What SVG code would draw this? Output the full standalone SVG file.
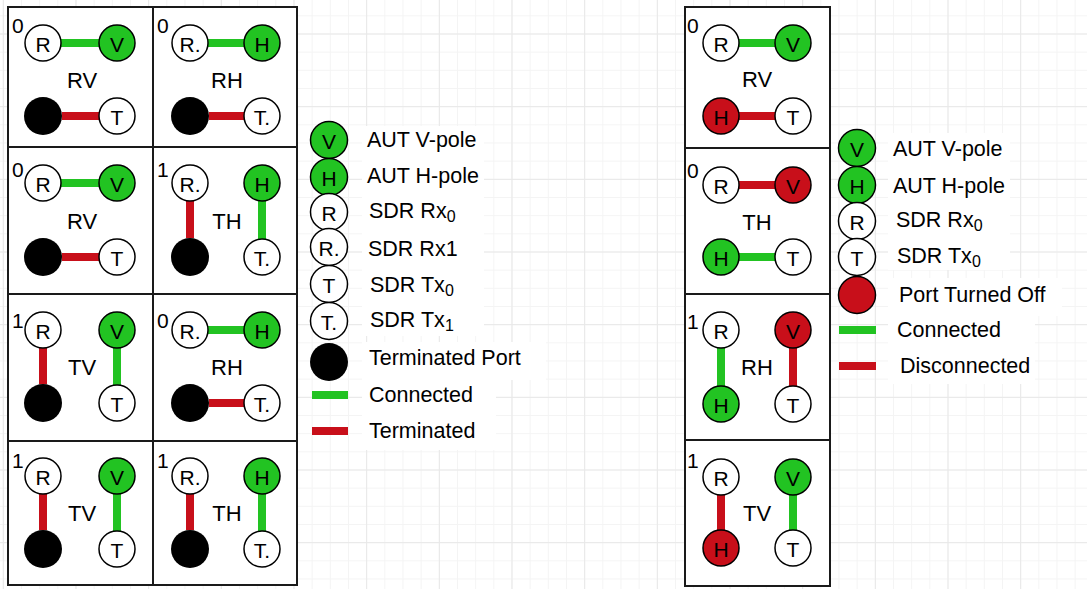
<svg xmlns="http://www.w3.org/2000/svg" width="1087" height="589" viewBox="0 0 1087 589">
<defs>
<pattern id="minor" width="18.1667" height="18.1667" patternUnits="userSpaceOnUse" x="2.83" y="15.33"><path d="M0.5 0V18.1667M0 0.5H18.1667" stroke="#f4f4f4" stroke-width="1" fill="none"/></pattern>
<pattern id="major" width="72.667" height="72.667" patternUnits="userSpaceOnUse" x="2.83" y="33.5"><path d="M0.5 0V72.667M0 0.5H72.667" stroke="#e8e8e8" stroke-width="1" fill="none"/></pattern>
</defs>
<style>
.cell{fill:#fff;stroke:#1a1a1a;stroke-width:2}
.p{stroke:#000;stroke-width:1.5}
.w{fill:#fff}
.g{fill:#22c322}
.r{fill:#c80f1a}
.k{fill:#000}
.cg{stroke:#22c322;stroke-width:8}
.cr{stroke:#c80f1a;stroke-width:8}
.t{font-family:"Liberation Sans",Arial,Helvetica,sans-serif;fill:#000}
.ltr{font-size:21px;text-anchor:middle;dominant-baseline:central}
.lab{font-size:22px;text-anchor:middle}
.num{font-size:21px}
.leg{font-size:21.5px}
.sub{font-size:16px}
.bg{fill:#fff}
</style>
<rect width="1087" height="589" fill="#fff"/>
<rect width="1087" height="589" fill="url(#minor)"/>
<rect width="1087" height="589" fill="url(#major)"/>

<g id="cells">
<rect class="cell" x="8" y="7" width="145" height="140"/>
<rect class="cell" x="153" y="7" width="144" height="140"/>
<rect class="cell" x="8" y="147" width="145" height="147"/>
<rect class="cell" x="153" y="147" width="144" height="147"/>
<rect class="cell" x="8" y="294" width="145" height="147"/>
<rect class="cell" x="153" y="294" width="144" height="147"/>
<rect class="cell" x="8" y="441" width="145" height="144"/>
<rect class="cell" x="153" y="441" width="144" height="144"/>
<rect class="cell" x="685" y="7" width="145" height="141"/>
<rect class="cell" x="685" y="148" width="145" height="146"/>
<rect class="cell" x="685" y="294" width="145" height="146"/>
<rect class="cell" x="685" y="440" width="145" height="146"/>
</g>

<g id="connectors">
<line class="cg" x1="61" y1="43" x2="99" y2="43"/>
<line class="cr" x1="62" y1="116" x2="99" y2="116"/>
<line class="cg" x1="208" y1="43" x2="244" y2="43"/>
<line class="cr" x1="209" y1="116" x2="244" y2="116"/>
<line class="cg" x1="61" y1="183" x2="99" y2="183"/>
<line class="cr" x1="62" y1="257" x2="99" y2="257"/>
<line class="cr" x1="190" y1="201" x2="190" y2="238"/>
<line class="cg" x1="262" y1="201" x2="262" y2="239"/>
<line class="cr" x1="43" y1="348" x2="43" y2="384"/>
<line class="cg" x1="117" y1="348" x2="117" y2="385"/>
<line class="cg" x1="208" y1="330" x2="244" y2="330"/>
<line class="cr" x1="209" y1="403" x2="244" y2="403"/>
<line class="cr" x1="43" y1="494" x2="43" y2="530"/>
<line class="cg" x1="117" y1="494" x2="117" y2="531"/>
<line class="cr" x1="190" y1="494" x2="190" y2="530"/>
<line class="cg" x1="262" y1="494" x2="262" y2="531"/>
<line class="cg" x1="739" y1="43" x2="775" y2="43"/>
<line class="cr" x1="739" y1="116" x2="775" y2="116"/>
<line class="cr" x1="739" y1="185" x2="775" y2="185"/>
<line class="cg" x1="739" y1="257" x2="775" y2="257"/>
<line class="cg" x1="721" y1="348" x2="721" y2="386"/>
<line class="cr" x1="793" y1="348" x2="793" y2="386"/>
<line class="cr" x1="721" y1="495" x2="721" y2="530"/>
<line class="cg" x1="793" y1="495" x2="793" y2="530"/>
</g>

<g id="L-r1c1">
<text class="t num" x="12" y="33">0</text>
<circle class="p w" cx="43" cy="43" r="18"/><text class="t ltr" x="43" y="44">R</text>
<circle class="p g" cx="117" cy="43" r="18"/><text class="t ltr" x="117" y="44">V</text>
<text class="t lab" x="82" y="88">RV</text>
<circle class="k" cx="43" cy="116" r="19"/>
<circle class="p w" cx="117" cy="116" r="18"/><text class="t ltr" x="117" y="117">T</text>
</g>
<g id="L-r1c2">
<text class="t num" x="157" y="33">0</text>
<circle class="p w" cx="190" cy="43" r="18"/><text class="t ltr" x="190" y="44">R.</text>
<circle class="p g" cx="262" cy="43" r="18"/><text class="t ltr" x="262" y="44">H</text>
<text class="t lab" x="227" y="88">RH</text>
<circle class="k" cx="190" cy="116" r="19"/>
<circle class="p w" cx="262" cy="116" r="18"/><text class="t ltr" x="262" y="117">T.</text>
</g>
<g id="L-r2c1">
<text class="t num" x="12" y="177">0</text>
<circle class="p w" cx="43" cy="183" r="18"/><text class="t ltr" x="43" y="184">R</text>
<circle class="p g" cx="117" cy="183" r="18"/><text class="t ltr" x="117" y="184">V</text>
<text class="t lab" x="82" y="229">RV</text>
<circle class="k" cx="43" cy="257" r="19"/>
<circle class="p w" cx="117" cy="257" r="18"/><text class="t ltr" x="117" y="258">T</text>
</g>
<g id="L-r2c2">
<text class="t num" x="157" y="177">1</text>
<circle class="p w" cx="190" cy="183" r="18"/><text class="t ltr" x="190" y="184">R.</text>
<circle class="p g" cx="262" cy="183" r="18"/><text class="t ltr" x="262" y="184">H</text>
<text class="t lab" x="227" y="229">TH</text>
<circle class="k" cx="190" cy="257" r="19"/>
<circle class="p w" cx="262" cy="257" r="18"/><text class="t ltr" x="262" y="258">T.</text>
</g>
<g id="L-r3c1">
<text class="t num" x="12" y="328">1</text>
<circle class="p w" cx="43" cy="330" r="18"/><text class="t ltr" x="43" y="331">R</text>
<circle class="p g" cx="117" cy="330" r="18"/><text class="t ltr" x="117" y="331">V</text>
<text class="t lab" x="82" y="375">TV</text>
<circle class="k" cx="43" cy="403" r="19"/>
<circle class="p w" cx="117" cy="403" r="18"/><text class="t ltr" x="117" y="404">T</text>
</g>
<g id="L-r3c2">
<text class="t num" x="157" y="328">0</text>
<circle class="p w" cx="190" cy="330" r="18"/><text class="t ltr" x="190" y="331">R.</text>
<circle class="p g" cx="262" cy="330" r="18"/><text class="t ltr" x="262" y="331">H</text>
<text class="t lab" x="227" y="375">RH</text>
<circle class="k" cx="190" cy="403" r="19"/>
<circle class="p w" cx="262" cy="403" r="18"/><text class="t ltr" x="262" y="404">T.</text>
</g>
<g id="L-r4c1">
<text class="t num" x="12" y="468">1</text>
<circle class="p w" cx="43" cy="476" r="18"/><text class="t ltr" x="43" y="477">R</text>
<circle class="p g" cx="117" cy="476" r="18"/><text class="t ltr" x="117" y="477">V</text>
<text class="t lab" x="82" y="521">TV</text>
<circle class="k" cx="43" cy="549" r="19"/>
<circle class="p w" cx="117" cy="549" r="18"/><text class="t ltr" x="117" y="550">T</text>
</g>
<g id="L-r4c2">
<text class="t num" x="157" y="468">1</text>
<circle class="p w" cx="190" cy="476" r="18"/><text class="t ltr" x="190" y="477">R.</text>
<circle class="p g" cx="262" cy="476" r="18"/><text class="t ltr" x="262" y="477">H</text>
<text class="t lab" x="227" y="521">TH</text>
<circle class="k" cx="190" cy="549" r="19"/>
<circle class="p w" cx="262" cy="549" r="18"/><text class="t ltr" x="262" y="550">T.</text>
</g>

<g id="R-r1">
<text class="t num" x="687" y="33">0</text>
<circle class="p w" cx="721" cy="43" r="18"/><text class="t ltr" x="721" y="44">R</text>
<circle class="p g" cx="793" cy="43" r="18"/><text class="t ltr" x="793" y="44">V</text>
<text class="t lab" x="757" y="87">RV</text>
<circle class="p r" cx="721" cy="116" r="18"/><text class="t ltr" x="721" y="117">H</text>
<circle class="p w" cx="793" cy="116" r="18"/><text class="t ltr" x="793" y="117">T</text>
</g>
<g id="R-r2">
<text class="t num" x="687" y="178">0</text>
<circle class="p w" cx="721" cy="185" r="18"/><text class="t ltr" x="721" y="186">R</text>
<circle class="p r" cx="793" cy="185" r="18"/><text class="t ltr" x="793" y="186">V</text>
<text class="t lab" x="757" y="230">TH</text>
<circle class="p g" cx="721" cy="257" r="18"/><text class="t ltr" x="721" y="258">H</text>
<circle class="p w" cx="793" cy="257" r="18"/><text class="t ltr" x="793" y="258">T</text>
</g>
<g id="R-r3">
<text class="t num" x="687" y="329">1</text>
<circle class="p w" cx="721" cy="330" r="18"/><text class="t ltr" x="721" y="331">R</text>
<circle class="p r" cx="793" cy="330" r="18"/><text class="t ltr" x="793" y="331">V</text>
<text class="t lab" x="757" y="375">RH</text>
<circle class="p g" cx="721" cy="404" r="18"/><text class="t ltr" x="721" y="405">H</text>
<circle class="p w" cx="793" cy="404" r="18"/><text class="t ltr" x="793" y="405">T</text>
</g>
<g id="R-r4">
<text class="t num" x="687" y="468">1</text>
<circle class="p w" cx="721" cy="477" r="18"/><text class="t ltr" x="721" y="478">R</text>
<circle class="p g" cx="793" cy="477" r="18"/><text class="t ltr" x="793" y="478">V</text>
<text class="t lab" x="757" y="521">TV</text>
<circle class="p r" cx="721" cy="548" r="18"/><text class="t ltr" x="721" y="549">H</text>
<circle class="p w" cx="793" cy="548" r="18"/><text class="t ltr" x="793" y="549">T</text>
</g>

<g id="legend-left">
<rect class="bg" x="362" y="126" width="122" height="210"/>
<rect class="bg" x="362" y="342" width="184" height="38"/>
<rect class="bg" x="362" y="380" width="134" height="70"/>
<circle class="p g" cx="329" cy="140" r="18.5"/><text class="t ltr" x="329" y="141">V</text>
<text class="t leg" x="367" y="147">AUT V-pole</text>
<circle class="p g" cx="329" cy="177" r="18.5"/><text class="t ltr" x="329" y="178">H</text>
<text class="t leg" x="367" y="183">AUT H-pole</text>
<circle class="p w" cx="329" cy="212" r="18.5"/><text class="t ltr" x="329" y="213">R</text>
<text class="t leg" x="369" y="218">SDR Rx<tspan class="sub" dy="4">0</tspan></text>
<circle class="p w" cx="329" cy="247" r="18.5"/><text class="t ltr" x="329" y="248">R.</text>
<text class="t leg" x="368" y="256">SDR Rx1</text>
<circle class="p w" cx="329" cy="284" r="18.5"/><text class="t ltr" x="329" y="285">T</text>
<text class="t leg" x="370" y="292">SDR Tx<tspan class="sub" dy="4">0</tspan></text>
<circle class="p w" cx="329" cy="321" r="18.5"/><text class="t ltr" x="329" y="322">T.</text>
<text class="t leg" x="370" y="327">SDR Tx<tspan class="sub" dy="4">1</tspan></text>
<circle class="k" cx="329" cy="362" r="19"/>
<text class="t leg" x="369" y="365">Terminated Port</text>
<rect class="g" x="312" y="391" width="36" height="8"/>
<text class="t leg" x="369" y="402">Connected</text>
<rect class="r" x="312" y="427" width="36" height="8"/>
<text class="t leg" x="369" y="438">Terminated</text>
</g>

<g id="legend-right">
<rect class="bg" x="888" y="133" width="122" height="137"/>
<rect class="bg" x="888" y="278" width="174" height="38"/>
<rect class="bg" x="888" y="316" width="147" height="68"/>
<circle class="p g" cx="857" cy="148" r="18.5"/><text class="t ltr" x="857" y="149">V</text>
<text class="t leg" x="893" y="156">AUT V-pole</text>
<circle class="p g" cx="857" cy="185" r="18.5"/><text class="t ltr" x="857" y="186">H</text>
<text class="t leg" x="893" y="193">AUT H-pole</text>
<circle class="p w" cx="857" cy="221" r="18.5"/><text class="t ltr" x="857" y="222">R</text>
<text class="t leg" x="896" y="227">SDR Rx<tspan class="sub" dy="4">0</tspan></text>
<circle class="p w" cx="857" cy="257" r="18.5"/><text class="t ltr" x="857" y="258">T</text>
<text class="t leg" x="897" y="263">SDR Tx<tspan class="sub" dy="4">0</tspan></text>
<circle class="p r" cx="857" cy="295" r="18.5"/>
<text class="t leg" x="899" y="302">Port Turned Off</text>
<rect class="g" x="839" y="326" width="37" height="8"/>
<text class="t leg" x="897" y="337">Connected</text>
<rect class="r" x="839" y="362" width="37" height="8"/>
<text class="t leg" x="900" y="373">Disconnected</text>
</g>
</svg>
